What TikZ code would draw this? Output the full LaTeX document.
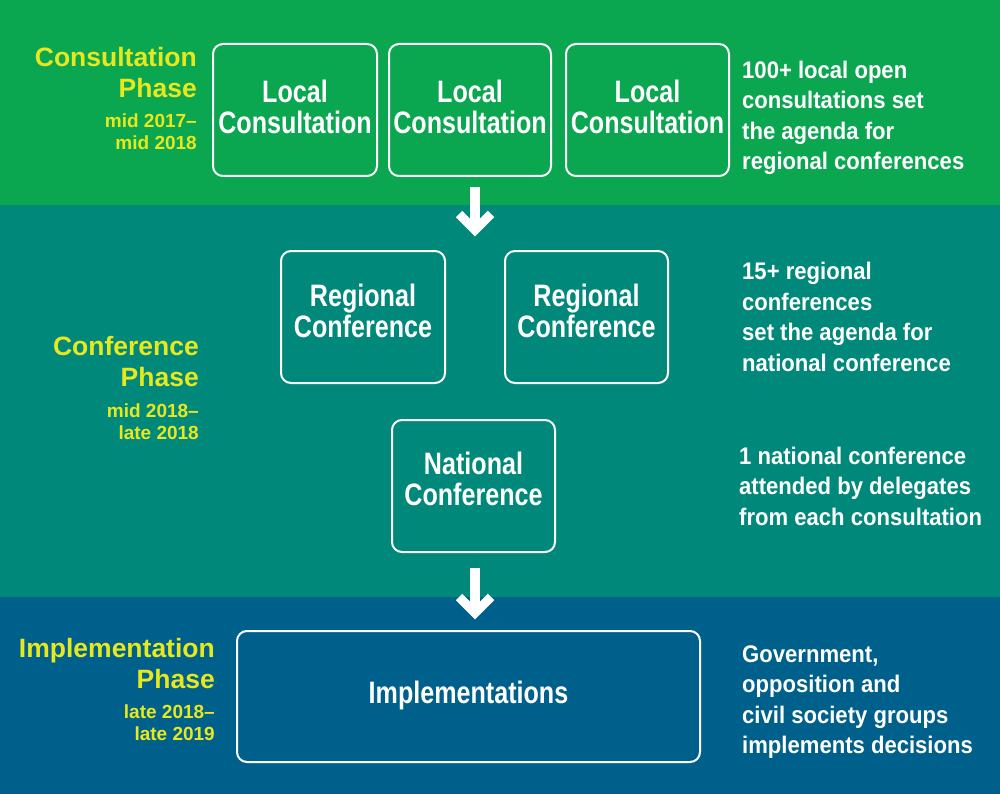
\documentclass[tikz,border=0pt]{standalone}
\usepackage{fontspec}
\setmainfont{Liberation Sans}
\newfontfamily\boxfont[FakeStretch=0.81]{Liberation Sans}
\newfontfamily\descfont[FakeStretch=0.92]{Liberation Sans}
\definecolor{bandgreen}{RGB}{10,166,80}
\definecolor{bandteal}{RGB}{0,137,122}
\definecolor{bandblue}{RGB}{0,96,140}
\definecolor{phaseyellow}{RGB}{232,232,30}
\tikzset{
  band/.style={fill=#1, draw=none},
  stagebox/.style={draw=white, line width=2pt, rounded corners=10pt, inner sep=0pt},
  boxtext/.style={text=white, font=\boxfont\bfseries\fontsize{31}{31}\selectfont, align=center, inner sep=0pt},
  desc/.style={text=white, font=\descfont\bfseries\fontsize{24}{30.5}\selectfont, align=left, anchor=west, inner sep=0pt},
  phasetitle/.style={text=phaseyellow, font=\bfseries\fontsize{26.5}{31}\selectfont, anchor=base east, inner sep=0pt},
  phasedate/.style={text=phaseyellow, font=\bfseries\fontsize{19}{22}\selectfont, anchor=base east, inner sep=0pt},
  flowshaft/.style={draw=white, line width=10pt},
  flowhead/.style={draw=white, line width=9pt, miter limit=10},
}
\begin{document}
\begin{tikzpicture}[x=1pt,y=-1pt]
\useasboundingbox (0,0) rectangle (1000,794);
% bands
\path[band=bandgreen] (0,0) rectangle (1000,205);
\path[band=bandteal] (0,205) rectangle (1000,597);
\path[band=bandblue] (0,597) rectangle (1000,794);

% phase labels
\node[phasetitle] (p1a) at (197,67) {Consultation};
\node[phasetitle] (p1b) at (197,98) {Phase};
\node[phasedate] (p1c) at (197,128) {mid 2017--};
\node[phasedate] (p1d) at (197,150) {mid 2018};

\node[phasetitle] (p2a) at (199,355) {Conference};
\node[phasetitle] (p2b) at (199,386) {Phase};
\node[phasedate] (p2c) at (199,417) {mid 2018--};
\node[phasedate] (p2d) at (199,439) {late 2018};

\node[phasetitle] (p3a) at (215,657) {Implementation};
\node[phasetitle] (p3b) at (215,688) {Phase};
\node[phasedate] (p3c) at (215,718) {late 2018--};
\node[phasedate] (p3d) at (215,740) {late 2019};

% boxes
\node[stagebox, minimum width=164pt, minimum height=132pt] (lc1) at (295,110) {};
\node[boxtext] (lc1t) at (295,106.5) {Local\\Consultation};
\node[stagebox, minimum width=162pt, minimum height=132pt] (lc2) at (470,110) {};
\node[boxtext] (lc2t) at (470,106.5) {Local\\Consultation};
\node[stagebox, minimum width=163pt, minimum height=132pt] (lc3) at (647.5,110) {};
\node[boxtext] (lc3t) at (647.5,106.5) {Local\\Consultation};

\node[stagebox, minimum width=164pt, minimum height=132pt] (rc1) at (363,317) {};
\node[boxtext] (rc1t) at (363,311) {Regional\\Conference};
\node[stagebox, minimum width=163pt, minimum height=132pt] (rc2) at (586.5,317) {};
\node[boxtext] (rc2t) at (586.5,311) {Regional\\Conference};

\node[stagebox, minimum width=163pt, minimum height=132pt] (nc) at (473.5,486) {};
\node[boxtext] (nct) at (473.5,479) {National\\Conference};

\node[stagebox, minimum width=463pt, minimum height=131pt] (im) at (468.5,696.5) {};
\node[boxtext] (imt) at (468.5,695) {Implementations};

% descriptions
\node[desc] (d1) at (742,118) {100+ local open\\consultations set\\the agenda for\\regional conferences};
\node[desc] (d2) at (742,317) {15+ regional\\conferences\\set the agenda for\\national conference};
\node[desc] (d3) at (739,486) {1 national conference\\attended by delegates\\from each consultation};
\node[desc] (d4) at (742,702) {Government,\\opposition and\\civil society groups\\implements decisions};

% arrows
\coordinate (a1top) at (475,187);
\coordinate (a1tip) at (475,230);
\coordinate (a1l) at (459,214);
\coordinate (a1r) at (491,214);
\draw[flowshaft] (a1top) -- (a1tip);
\draw[flowhead] (a1l) -- (a1tip) -- (a1r);

\coordinate (a2top) at (475,568);
\coordinate (a2tip) at (475,613);
\coordinate (a2l) at (459,597);
\coordinate (a2r) at (491,597);
\draw[flowshaft] (a2top) -- (a2tip);
\draw[flowhead] (a2l) -- (a2tip) -- (a2r);
\end{tikzpicture}
\end{document}
